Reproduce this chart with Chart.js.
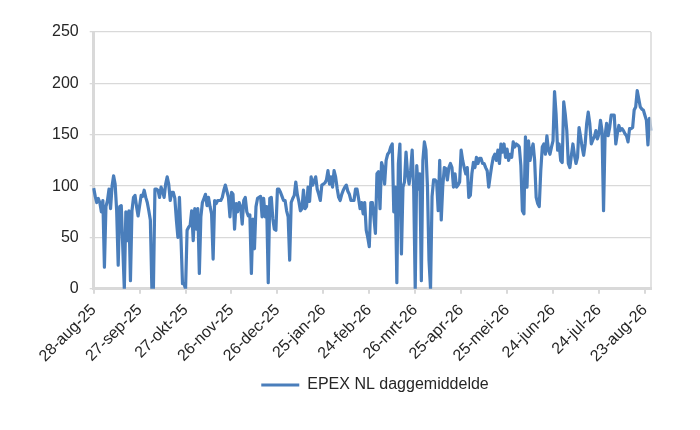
<!DOCTYPE html>
<html>
<head>
<meta charset="utf-8">
<script src="https://cdn.jsdelivr.net/npm/chart.js@4"></script>
<style>
html,body{margin:0;padding:0;background:#fff;}
#wrap{width:700px;height:430px;}
</style>
</head>
<body>
<div id="wrap"><canvas id="c" width="700" height="430"></canvas></div>
<script>
// Daily average EPEX NL price, from 28-aug-25, one value per day
const startDate = [2025, 7, 28];
const monthNames = ['jan','feb','mrt','apr','mei','jun','jul','aug','sep','okt','nov','dec'];
const seriesName = 'EPEX NL daggemiddelde';
const yTicks = [0, 50, 100, 150, 200, 250];
const labelEvery = 30;
const epexValues = [
  98, 90, 84, 88, 84, 75, 86, 21, 80, 86,
  97, 78, 100, 110, 102, 76, 23, 80, 81, 40,
  0, 75, 47, 76, 8, 76, 89, 91, 80, 71,
  81, 91, 90, 96, 89, 84, 76, 67, 0, 0,
  97, 97, 96, 89, 99, 95, 89, 102, 109, 102,
  86, 94, 94, 88, 67, 50, 89, 50, 5, 5,
  0, 57, 60, 62, 76, 47, 78, 58, 78, 15,
  70, 84, 88, 92, 81, 89, 80, 73, 29, 86,
  83, 86, 86, 86, 89, 96, 101, 95, 89, 70,
  94, 92, 58, 83, 75, 84, 80, 63, 86, 89,
  75, 71, 72, 15, 68, 39, 80, 88, 89, 90,
  70, 88, 70, 80, 6, 88, 89, 68, 58, 57,
  97, 97, 94, 90, 86, 86, 76, 70, 28, 84,
  88, 91, 104, 92, 85, 76, 78, 96, 78, 80,
  99, 85, 109, 101, 105, 109, 97, 92, 86, 101,
  102, 103, 106, 115, 102, 109, 99, 115, 109, 98,
  89, 86, 92, 96, 99, 101, 95, 92, 86, 86,
  86, 97, 97, 88, 78, 84, 73, 84, 57, 50,
  41, 84, 84, 70, 54, 112, 114, 78, 123, 118,
  102, 125, 131, 133, 138, 141, 75, 99, 6, 122,
  141, 34, 99, 104, 133, 112, 102, 115, 135, 97,
  0, 120, 97, 112, 8, 125, 143, 135, 99, 28,
  0, 90, 106, 106, 104, 76, 125, 67, 100, 118,
  117, 106, 118, 122, 118, 99, 112, 99, 101, 104,
  135, 125, 118, 112, 118, 89, 91, 112, 123, 118,
  128, 122, 127, 127, 122, 122, 118, 115, 99, 110,
  120, 128, 131, 125, 135, 122, 141, 133, 141, 128,
  136, 125, 131, 128, 143, 138, 141, 140, 138, 120,
  76, 73, 148, 99, 144, 125, 135, 141, 125, 89,
  83, 80, 115, 138, 141, 131, 149, 135, 131, 138,
  144, 192, 170, 135, 141, 125, 123, 182, 170, 154,
  122, 118, 130, 141, 130, 122, 128, 157, 148, 138,
  130, 141, 161, 172, 161, 141, 145, 148, 154, 146,
  151, 164, 154, 76, 149, 161, 149, 157, 169, 169,
  169, 141, 151, 159, 154, 156, 154, 151, 149, 143,
  156, 156, 157, 174, 177, 193, 185, 177, 175, 174,
  169, 164, 140, 166, 154
];

// category labels (dates)
const categories = epexValues.map((_, i) => {
  const d = new Date(startDate[0], startDate[1], startDate[2] + i);
  const dd = String(d.getDate()).padStart(2, '0');
  const yy = String(d.getFullYear()).slice(2);
  return dd + '-' + monthNames[d.getMonth()] + '-' + yy;
});

const FONT = 'Arial, "Liberation Sans", Helvetica, sans-serif';
const GRID = '#d9d9d9';
const TEXT = '#262626';

const frameRight = {
  id: 'frameRight',
  afterDatasetsDraw(chart) {
    const a = chart.chartArea, ctx = chart.ctx;
    ctx.save();
    ctx.strokeStyle = GRID;
    ctx.lineWidth = 1.5;
    ctx.beginPath();
    ctx.moveTo(a.right, a.top);
    ctx.lineTo(a.right, a.bottom);
    ctx.stroke();
    ctx.restore();
  }
};

const legendShift = {
  id: 'legendShift',
  afterLayout(chart) {
    const lg = chart.legend;
    if (lg) { lg.left += 29; lg.right += 29; }
  }
};

new Chart(document.getElementById('c'), {
  type: 'line',
  data: {
    labels: categories,
    datasets: [{
      label: seriesName,
      data: epexValues,
      borderColor: '#4a7ebb',
      backgroundColor: '#4a7ebb',
      borderWidth: 3.2,
      pointRadius: 0,
      tension: 0,
      borderJoinStyle: 'round',
      pointStyle: 'line'
    }]
  },
  options: {
    responsive: false,
    animation: false,
    layout: { padding: { top: 32, left: 41, right: 49, bottom: 27 } },
    plugins: {
      tooltip: { enabled: false },
      legend: {
        position: 'bottom',
        labels: {
          usePointStyle: true,
          pointStyleWidth: 38,
          font: { family: FONT, size: 16 },
          color: TEXT,
          padding: 4
        }
      }
    },
    scales: {
      x: {
        type: 'category',
        offset: false,
        afterBuildTicks(scale) {
          scale.ticks = scale.ticks.filter(t => t.value % labelEvery === 0);
        },
        ticks: {
          autoSkip: false,
          maxRotation: 45,
          minRotation: 45,
          padding: 7,
          font: { family: FONT, size: 16 },
          color: TEXT,
          callback(value) { return this.getLabelForValue(value); }
        },
        grid: {
          drawOnChartArea: false,
          drawTicks: true,
          tickLength: 5,
          color: GRID,
          lineWidth: 2
        },
        border: { display: true, color: GRID, width: 3 }
      },
      y: {
        min: 0,
        max: 250,
        afterBuildTicks(scale) {
          scale.ticks = yTicks.map(v => ({ value: v }));
        },
        ticks: {
          padding: 11,
          font: { family: FONT, size: 16 },
          color: TEXT
        },
        grid: {
          color: GRID,
          lineWidth: 1.3,
          tickLength: 4
        },
        border: { display: true, color: GRID, width: 3 }
      }
    }
  },
  plugins: [frameRight, legendShift]
});
</script>
</body>
</html>
